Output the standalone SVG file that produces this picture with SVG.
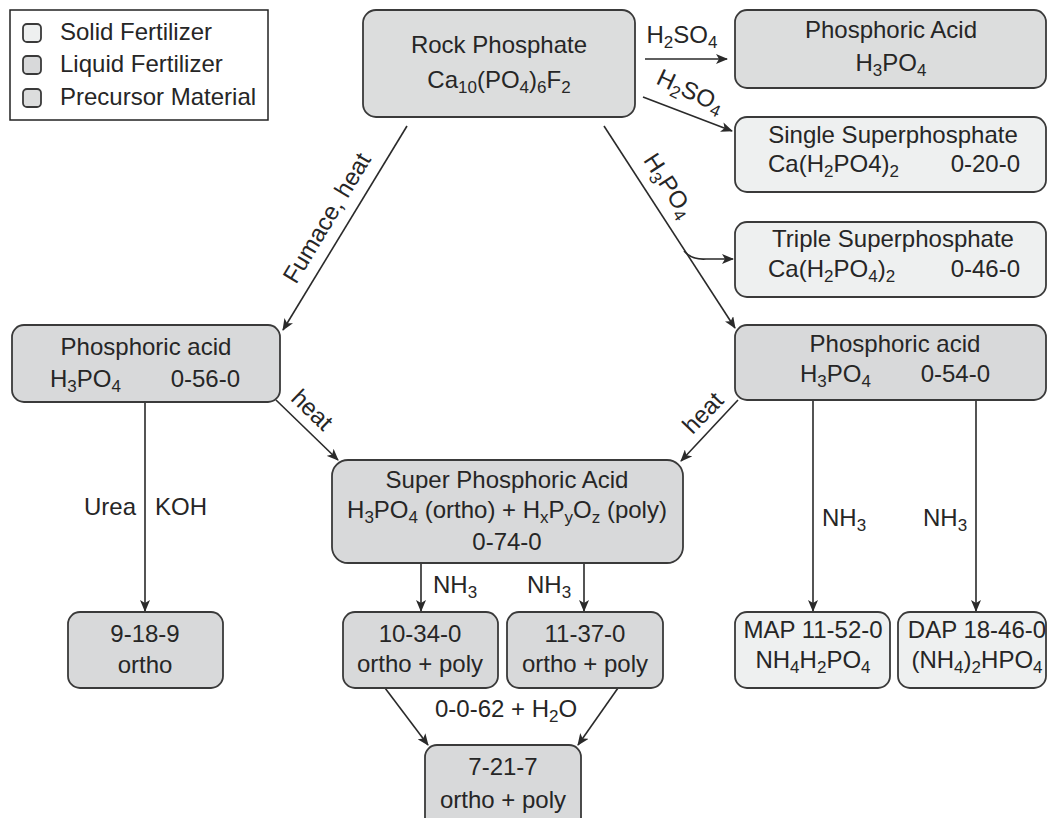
<svg xmlns="http://www.w3.org/2000/svg" width="1048" height="818" viewBox="0 0 1048 818">
<style>
text{font-family:"Liberation Sans",Arial,sans-serif;font-size:24px;fill:#262626}
.m{text-anchor:middle}
.e{text-anchor:end}
.s{font-size:17px}
.box{stroke:#3a3a3a;stroke-width:1.8}
.solid{fill:#eef0f0}
.liquid{fill:#d8d9da}
.pre{fill:#dcdddd}
.c{fill:none;stroke:#2a2a2a;stroke-width:1.6}
</style>
<defs>
<marker id="a" viewBox="0 0 12 10" refX="11" refY="5" markerWidth="12" markerHeight="10" markerUnits="userSpaceOnUse" orient="auto">
<path d="M0,0 L12,5 L0,10 L3,5 z" fill="#2a2a2a"/>
</marker>
</defs>
<rect width="1048" height="818" fill="#ffffff"/>
<g id="legend">
<rect x="10" y="10" width="258" height="110" fill="#ffffff" stroke="#222" stroke-width="1.5"/>
<rect x="23" y="24" width="18" height="18" rx="4" class="box solid"/>
<rect x="23" y="56" width="18" height="18" rx="4" class="box liquid"/>
<rect x="23" y="89" width="18" height="18" rx="4" class="box pre"/>
<text x="60" y="40">Solid Fertilizer</text>
<text x="60" y="72">Liquid Fertilizer</text>
<text x="60" y="105">Precursor Material</text>
</g>
<g id="connectors">
<line x1="645" y1="59" x2="727" y2="59" class="c" marker-end="url(#a)"/>
<line x1="643" y1="97" x2="732" y2="131" class="c" marker-end="url(#a)"/>
<line x1="604" y1="126" x2="735" y2="328" class="c" marker-end="url(#a)"/>
<path d="M684,251 Q692,260 706,259 L733,259" class="c" marker-end="url(#a)"/>
<line x1="407" y1="126" x2="283" y2="330" class="c" marker-end="url(#a)"/>
<line x1="145" y1="402" x2="145" y2="611" class="c" marker-end="url(#a)"/>
<line x1="276" y1="400" x2="338" y2="460" class="c" marker-end="url(#a)"/>
<line x1="738" y1="400" x2="681" y2="461" class="c" marker-end="url(#a)"/>
<line x1="421" y1="563" x2="421" y2="611" class="c" marker-end="url(#a)"/>
<line x1="584" y1="563" x2="584" y2="611" class="c" marker-end="url(#a)"/>
<line x1="813" y1="400" x2="813" y2="611" class="c" marker-end="url(#a)"/>
<line x1="976" y1="400" x2="976" y2="611" class="c" marker-end="url(#a)"/>
<line x1="385" y1="688" x2="428" y2="745" class="c" marker-end="url(#a)"/>
<line x1="618" y1="688" x2="578" y2="745" class="c" marker-end="url(#a)"/>
<text x="682" y="43" class="m">H<tspan class="s" dy="5">2</tspan><tspan dy="-5">SO</tspan><tspan class="s" dy="5">4</tspan></text>
<text transform="translate(690,92) rotate(25)" x="0" y="7" class="m">H<tspan class="s" dy="5">2</tspan><tspan dy="-5">SO</tspan><tspan class="s" dy="5">4</tspan></text>
<text transform="translate(668,186) rotate(57)" x="0" y="7" class="m">H<tspan class="s" dy="5">3</tspan><tspan dy="-5">PO</tspan><tspan class="s" dy="5">4</tspan></text>
<text transform="translate(327,218) rotate(-59)" x="0" y="8" class="m">Fumace, heat</text>
<text transform="translate(312,410) rotate(44)" x="0" y="8" class="m">heat</text>
<text transform="translate(703,413) rotate(-46)" x="0" y="8" class="m">heat</text>
<text x="136" y="515" class="e">Urea</text>
<text x="155" y="515">KOH</text>
<text x="433" y="593">NH<tspan class="s" dy="5">3</tspan></text>
<text x="527" y="593">NH<tspan class="s" dy="5">3</tspan></text>
<text x="822" y="526">NH<tspan class="s" dy="5">3</tspan></text>
<text x="923" y="526">NH<tspan class="s" dy="5">3</tspan></text>
<text x="435" y="717">0-0-62 + H<tspan class="s" dy="5">2</tspan><tspan dy="-5">O</tspan></text>
</g>
<g id="rock-phosphate">
<rect x="363" y="10" width="272" height="107" rx="13" class="box pre"/>
<text x="499" y="53" class="m">Rock Phosphate</text>
<text x="499" y="88" class="m">Ca<tspan class="s" dy="5">10</tspan><tspan dy="-5">(PO</tspan><tspan class="s" dy="5">4</tspan><tspan dy="-5">)</tspan><tspan class="s" dy="5">6</tspan><tspan dy="-5">F</tspan><tspan class="s" dy="5">2</tspan></text>
</g>
<g id="phosphoric-acid-top">
<rect x="735" y="10" width="311" height="78" rx="12" class="box pre"/>
<text x="891" y="38" class="m">Phosphoric Acid</text>
<text x="891" y="71" class="m">H<tspan class="s" dy="5">3</tspan><tspan dy="-5">PO</tspan><tspan class="s" dy="5">4</tspan></text>
</g>
<g id="single-superphosphate">
<rect x="735" y="117" width="311" height="75" rx="12" class="box solid"/>
<text x="893" y="143" class="m">Single Superphosphate</text>
<text x="768" y="172">Ca(H<tspan class="s" dy="5">2</tspan><tspan dy="-5">PO4)</tspan><tspan class="s" dy="5">2</tspan></text>
<text x="1020" y="172" class="e">0-20-0</text>
</g>
<g id="triple-superphosphate">
<rect x="735" y="222" width="311" height="75" rx="12" class="box solid"/>
<text x="893" y="247" class="m">Triple Superphosphate</text>
<text x="768" y="277">Ca(H<tspan class="s" dy="5">2</tspan><tspan dy="-5">PO</tspan><tspan class="s" dy="5">4</tspan><tspan dy="-5">)</tspan><tspan class="s" dy="5">2</tspan></text>
<text x="1020" y="277" class="e">0-46-0</text>
</g>
<g id="phosphoric-acid-left">
<rect x="12" y="325" width="268" height="77" rx="12" class="box liquid"/>
<text x="146" y="355" class="m">Phosphoric acid</text>
<text x="50" y="387">H<tspan class="s" dy="5">3</tspan><tspan dy="-5">PO</tspan><tspan class="s" dy="5">4</tspan></text>
<text x="240" y="387" class="e">0-56-0</text>
</g>
<g id="phosphoric-acid-right">
<rect x="735" y="325" width="311" height="75" rx="12" class="box liquid"/>
<text x="895" y="352" class="m">Phosphoric acid</text>
<text x="800" y="382">H<tspan class="s" dy="5">3</tspan><tspan dy="-5">PO</tspan><tspan class="s" dy="5">4</tspan></text>
<text x="990" y="382" class="e">0-54-0</text>
</g>
<g id="super-phosphoric-acid">
<rect x="332" y="460" width="351" height="103" rx="16" class="box liquid"/>
<text x="507" y="488" class="m">Super Phosphoric Acid</text>
<text x="507" y="518" class="m">H<tspan class="s" dy="5">3</tspan><tspan dy="-5">PO</tspan><tspan class="s" dy="5">4</tspan><tspan dy="-5"> (ortho) + H</tspan><tspan class="s" dy="5">x</tspan><tspan dy="-5">P</tspan><tspan class="s" dy="5">y</tspan><tspan dy="-5">O</tspan><tspan class="s" dy="5">z</tspan><tspan dy="-5"> (poly)</tspan></text>
<text x="507" y="550" class="m">0-74-0</text>
</g>
<g id="n9-18-9">
<rect x="68" y="612" width="155" height="76" rx="12" class="box liquid"/>
<text x="145" y="642" class="m">9-18-9</text>
<text x="145" y="673" class="m">ortho</text>
</g>
<g id="n10-34-0">
<rect x="343" y="612" width="155" height="76" rx="12" class="box liquid"/>
<text x="420" y="642" class="m">10-34-0</text>
<text x="420" y="672" class="m">ortho + poly</text>
</g>
<g id="n11-37-0">
<rect x="507" y="612" width="156" height="76" rx="12" class="box liquid"/>
<text x="585" y="642" class="m">11-37-0</text>
<text x="585" y="672" class="m">ortho + poly</text>
</g>
<g id="map">
<rect x="735" y="612" width="155" height="76" rx="12" class="box solid"/>
<text x="813" y="638" class="m">MAP 11-52-0</text>
<text x="813" y="668" class="m">NH<tspan class="s" dy="5">4</tspan><tspan dy="-5">H</tspan><tspan class="s" dy="5">2</tspan><tspan dy="-5">PO</tspan><tspan class="s" dy="5">4</tspan></text>
</g>
<g id="dap">
<rect x="898" y="612" width="148" height="76" rx="12" class="box solid"/>
<text x="977" y="638" class="m">DAP 18-46-0</text>
<text x="977" y="668" class="m">(NH<tspan class="s" dy="5">4</tspan><tspan dy="-5">)</tspan><tspan class="s" dy="5">2</tspan><tspan dy="-5">HPO</tspan><tspan class="s" dy="5">4</tspan></text>
</g>
<g id="n7-21-7">
<rect x="425" y="745" width="156" height="90" rx="12" class="box liquid"/>
<text x="503" y="775" class="m">7-21-7</text>
<text x="503" y="808" class="m">ortho + poly</text>
</g>
</svg>
